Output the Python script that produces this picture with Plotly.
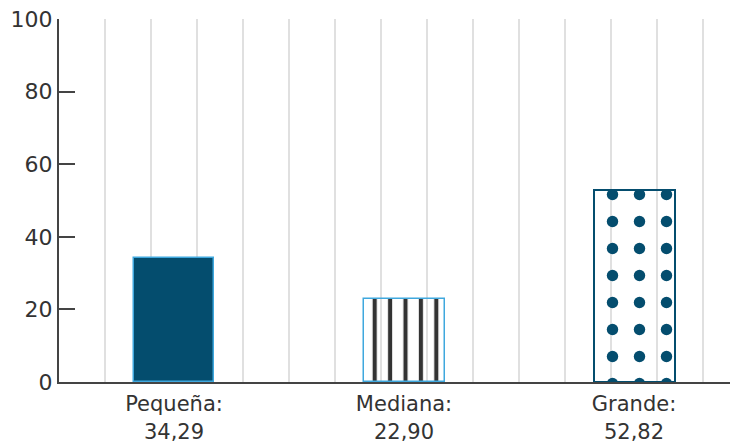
import plotly.graph_objects as go

categories = ["Pequeña:", "Mediana:", "Grande:"]
values = [34.29, 22.90, 52.82]
value_labels = ["34,29", "22,90", "52,82"]
y_ticks = [0, 20, 40, 60, 80, 100]

DARK = "#044D6E"
LIGHTBLUE = "#3FA8DE"
AXIS = "#444444"
GRID = "#E0E0E0"
FONT = "DejaVu Sans"
TXT = "#333333"

slot = 5  # grid units per category
xs = [i * slot + slot / 2 for i in range(len(categories))]
ticktext = [f"{c}<br>{v}" for c, v in zip(categories, value_labels)]

fig = go.Figure()

styles = [
    dict(color=DARK, line=dict(color=LIGHTBLUE, width=1.5)),
    dict(color="rgba(0,0,0,0)", line=dict(color=LIGHTBLUE, width=1.5),
         pattern=dict(shape="|", fgcolor="#333333", bgcolor="rgba(0,0,0,0)",
                      fgopacity=1, size=15.4, solidity=0.27, fillmode="overlay")),
    dict(color="rgba(0,0,0,0)", line=dict(color=DARK, width=2),
         pattern=dict(shape=".", fgcolor=DARK, bgcolor="rgba(0,0,0,0)",
                      fgopacity=1, size=27, solidity=0.14, fillmode="overlay")),
]

for x, v, st in zip(xs, values, styles):
    fig.add_trace(go.Bar(x=[x], y=[v], width=1.76, marker=st,
                         showlegend=False, hoverinfo="skip"))

# page body has an 8px default margin; size the figure to fit the window
fig.update_layout(
    width=730, height=435,
    margin=dict(l=51, r=0, t=11, b=61, autoexpand=False),
    paper_bgcolor="white", plot_bgcolor="white",
    font=dict(family=FONT, size=22, color=TXT),
    bargap=0,
)
fig.update_xaxes(
    range=[0, 14.76], tickvals=xs, ticktext=ticktext, automargin=False,
    showgrid=False, showline=True, linecolor=AXIS, linewidth=2,
    ticks="", zeroline=False, ticklabelstandoff=2, ticklabeloverflow="allow",
    minor=dict(dtick=1, tick0=0, showgrid=True, gridcolor=GRID, gridwidth=2),
    tickfont=dict(family=FONT, size=21, color=TXT),
)
fig.update_yaxes(
    range=[0, 100], tickvals=y_ticks, showgrid=False, zeroline=False,
    automargin=False, ticklabeloverflow="allow",
    showline=True, linecolor=AXIS, linewidth=2,
    ticks="inside", ticklen=16, tickwidth=2, tickcolor=AXIS,
    tickfont=dict(family=FONT, size=22, color=TXT),
)

fig.write_html("out.html")
